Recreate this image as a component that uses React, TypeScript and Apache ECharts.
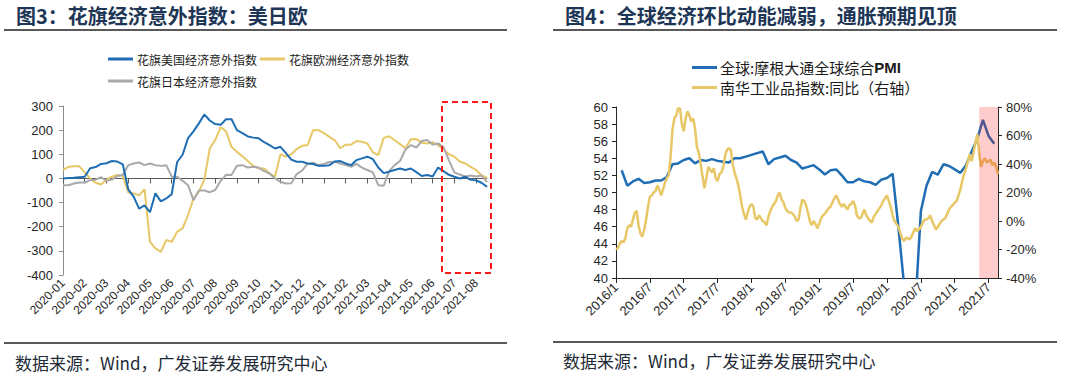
import React, { useEffect, useRef } from 'react';
import * as echarts from 'echarts';

const CJK = '"Noto Sans CJK SC", sans-serif';
const LATIN = '"Liberation Sans", Arial, sans-serif';

// ---------- Left chart: Citi Economic Surprise Index ----------
const LEFT_MONTHS = [
  '2020-01', '2020-02', '2020-03', '2020-04', '2020-05', '2020-06', '2020-07', '2020-08',
  '2020-09', '2020-10', '2020-11', '2020-12', '2021-01', '2021-02', '2021-03', '2021-04',
  '2021-05', '2021-06', '2021-07', '2021-08',
];
const LEFT_SLOTS_PER_MONTH = 4; // weekly samples
const US_CESI = [
  0, 2, 3, 5, 7, 42, 47, 60, 63, 72,
  70, 58, -45, -75, -125, -112, -140, -62, -95, -83,
  -65, 68, 98, 167, 195, 228, 265, 240, 225, 222,
  245, 245, 200, 188, 174, 169, 166, 150, 138, 124,
  131, 105, 78, 69, 69, 62, 60, 52, 52, 55,
  70, 72, 62, 55, 76, 83, 90, 80, 45, 22,
  28, 35, 41, 35, 41, 26, 10, 14, 8, 45,
  30, 15, 7, 0, 7, -6, -8, -18, -35,
];
const EU_CESI = [
  35, 48, 50, 50, 25, 0, -18, -25, -5, 7,
  14, 10, -58, -62, -70, -45, -263, -290, -304, -255,
  -263, -221, -207, -152, -83, -55, -5, 124, 159, 212,
  195, 131, 110, 92, 72, 52, 42, 41, 21, 7,
  100, 90, 100, 122, 135, 138, 200, 200, 188, 172,
  158, 125, 140, 140, 155, 152, 145, 108, 97, 168,
  175, 158, 142, 125, 162, 163, 148, 145, 150, 138,
  120, 100, 90, 70, 62, 48, 35, 12, 3,
];
const JP_CESI = [
  -28, -28, -21, -17, -17, -7, -5, 5, -10, -5,
  10, 14, 55, 62, 66, 55, 62, 55, 52, 55,
  7, 7, -10, -28, -90, -50, -50, -57, -48, -10,
  15, 14, 53, 55, 45, 48, 45, 30, 20, 0,
  -14, -21, -20, 18, 33, 60, 65, 55, 60, 68,
  69, 62, 55, 48, 60, 45, 35, 25, -28, -30,
  30, 55, 72, 120, 138, 128, 155, 159, 140, 145,
  130, 75, 25, 16, 8, 12, 8, 12, -15,
];
const LEFT_NAMES = ['花旗美国经济意外指数', '花旗欧洲经济意外指数', '花旗日本经济意外指数'];

// ---------- Right chart: PMI & Nanhua industrial index ----------
const RIGHT_MONTHS: string[] = [];
for (let y = 2016; y <= 2021; y++) {
  for (let m = 1; m <= 12; m++) {
    if (y === 2021 && m > 8) break;
    RIGHT_MONTHS.push(`${y}/${m}`);
  }
}
const RIGHT_SLOTS_PER_MONTH = 3;
// JPM global composite PMI, monthly (2016/1 .. 2021/7), plotted at month end
const PMI = [
  52.6, 50.8, 51.3, 51.6, 51.1, 51.2, 51.4, 51.4, 51.8, 53.3, 53.4, 53.8,
  54.0, 53.4, 53.8, 53.7, 53.9, 53.7, 53.6, 53.5, 54.0, 54.0, 54.2, 54.4,
  54.6, 54.8, 53.3, 53.9, 54.1, 54.3, 53.8, 53.5, 52.8, 53.0, 53.2, 52.7,
  52.1, 52.6, 52.7, 52.0, 51.2, 51.2, 51.6, 51.3, 51.2, 50.9, 51.5, 51.7,
  52.2, 46.1, 39.4, 26.2, 36.3, 47.8, 50.8, 52.4, 52.1, 53.3, 53.1, 52.7,
  52.3, 53.2, 54.8, 56.3, 58.5, 56.6, 55.7,
];
// Nanhua industrial index YoY (%), ~10-day samples
const NANHUA_YOY = [
  -20, -19, -16, -14, -15, -12, -5, -3, -4, 1,
  6, 7, -3, -9, -11, -6, 1, 10, 17, 18,
  20, 21, 25, 22, 18, 22, 27, 30, 32, 45,
  64, 72, 74, 79, 79, 68, 63, 72, 77, 74,
  70, 72, 65, 52, 48, 40, 31, 23, 30, 38,
  36, 34, 37, 30, 28, 33, 34, 38, 46, 50,
  51, 50, 40, 34, 30, 25, 18, 10, 5, 1,
  6, 10, 12, 10, 2, 1, 4, 2, 0, -1,
  -3, 3, 7, 10, 12, 14, 18, 20, 15, 13,
  9, 7, 6, 6, 5, 3, 0, 1, 9, 15,
  14, 11, 6, 0, -3, 0, -2, -5, -2, 2,
  4, 5, 7, 9, 10, 13, 16, 18, 15, 12,
  10, 12, 10, 8, 11, 12, 14, 11, 4, 2,
  2, 5, 8, 4, 2, 0, -1, 3, 5, 7,
  9, 11, 14, 16, 18, 14, 10, 4, 0, -2,
  -4, -8, -12, -14, -12, -12, -13, -11, -8, -5,
  -7, -6, -4, -1, 1, 1, 2, 4, 0, -3,
  -6, -4, -2, 0, 1, 2, 5, 8, 10, 11,
  13, 14, 18, 22, 28, 33, 37, 42, 47, 42,
  48, 55, 61, 47, 38, 42, 44, 41, 42, 43,
  39, 41, 38, 33,
];
const RIGHT_NAMES = ['全球:摩根大通全球综合PMI', '南华工业品指数:同比（右轴）'];
const HIGHLIGHT_FROM_SLOT = 193;

// ---------- build categories ----------
const leftCats: string[] = US_CESI.map((_, i) => `${LEFT_MONTHS[Math.floor(i / LEFT_SLOTS_PER_MONTH)]}#${i % LEFT_SLOTS_PER_MONTH}`);
const rightCats: string[] = NANHUA_YOY.map((_, i) => `${RIGHT_MONTHS[Math.floor(i / RIGHT_SLOTS_PER_MONTH)]}#${i % RIGHT_SLOTS_PER_MONTH}`);
const pmiSlots: (number | null)[] = rightCats.map(() => null);
PMI.forEach((v, m) => {
  const idx = (m + 1) * RIGHT_SLOTS_PER_MONTH;
  if (idx < pmiSlots.length) pmiSlots[idx] = v;
});

const catLabel = (v: string) => String(v).split('#')[0];

function buildOption(): any {
  const leftInterval = (i: number) => i % LEFT_SLOTS_PER_MONTH === 0;
  const rightInterval = (i: number) => i % (RIGHT_SLOTS_PER_MONTH * 6) === 0;
  const axisText = { fontFamily: LATIN, color: '#262626' };
  return {
    animation: false,
    backgroundColor: '#ffffff',
    grid: [
      { left: 63, top: 106, width: 424, height: 169 },
      { left: 616, top: 107, width: 382, height: 171 },
    ],
    legend: [
      {
        data: [LEFT_NAMES[0], LEFT_NAMES[1]], left: 108, top: 53, padding: 0, itemGap: 3,
        icon: 'rect', itemWidth: 25, itemHeight: 3,
        textStyle: { fontFamily: CJK, fontSize: 12, color: '#1a1a1a', padding: [0, 0, 0, -1] },
      },
      {
        data: [LEFT_NAMES[2]], left: 108, top: 75, padding: 0,
        icon: 'rect', itemWidth: 25, itemHeight: 3,
        textStyle: { fontFamily: CJK, fontSize: 12, color: '#1a1a1a', padding: [0, 0, 0, -1] },
      },
      {
        data: [RIGHT_NAMES[0]], left: 692, top: 60, padding: 0,
        icon: 'rect', itemWidth: 25, itemHeight: 3,
        formatter: (n: string) => n.replace('PMI', '{b|PMI}'),
        textStyle: {
          fontFamily: CJK, fontSize: 15, color: '#1a1a1a', padding: [0, 0, 0, -2],
          rich: { b: { fontFamily: LATIN, fontWeight: 'bold', fontSize: 15, color: '#1a1a1a' } },
        },
      },
      {
        data: [RIGHT_NAMES[1]], left: 692, top: 80, padding: 0,
        icon: 'rect', itemWidth: 25, itemHeight: 3,
        textStyle: { fontFamily: CJK, fontSize: 15, color: '#1a1a1a', padding: [0, 0, 0, -2] },
      },
    ],
    xAxis: [
      {
        type: 'category', gridIndex: 0, data: leftCats, boundaryGap: false, position: 'bottom',
        axisLine: { show: true, onZero: true, lineStyle: { color: '#595959', width: 1 } },
        axisTick: { show: true, interval: leftInterval, length: 5, lineStyle: { color: '#595959' } },
        axisLabel: { show: false },
        splitLine: { show: false },
      },
      {
        type: 'category', gridIndex: 0, data: leftCats, boundaryGap: false, position: 'bottom',
        axisLine: { show: false, onZero: false },
        axisTick: { show: false },
        axisLabel: {
          show: true, interval: leftInterval, rotate: 45, fontSize: 12, margin: 6, hideOverlap: false,
          formatter: catLabel, ...axisText,
        },
        splitLine: { show: false },
      },
      {
        type: 'category', gridIndex: 1, data: rightCats, boundaryGap: false, position: 'bottom',
        axisLine: { show: true, onZero: false, lineStyle: { color: '#262626', width: 1 } },
        axisTick: { show: true, interval: rightInterval, length: 5, lineStyle: { color: '#262626' } },
        axisLabel: {
          show: true, interval: rightInterval, rotate: 45, fontSize: 13, margin: 7, hideOverlap: false,
          formatter: catLabel, ...axisText,
        },
        splitLine: { show: false },
      },
    ],
    yAxis: [
      {
        type: 'value', gridIndex: 0, min: -400, max: 300, interval: 100,
        axisLine: { show: true, lineStyle: { color: '#8c8c8c' } },
        axisTick: { show: true, length: 4, lineStyle: { color: '#8c8c8c' } },
        axisLabel: { fontSize: 13, margin: 10, ...axisText },
        splitLine: { show: false },
      },
      {
        type: 'value', gridIndex: 1, min: 40, max: 60, interval: 2,
        axisLine: { show: true, lineStyle: { color: '#262626' } },
        axisTick: { show: true, length: 4, lineStyle: { color: '#262626' } },
        axisLabel: { fontSize: 13, margin: 8, ...axisText },
        splitLine: { show: false },
      },
      {
        type: 'value', gridIndex: 1, position: 'right', min: -40, max: 80, interval: 20,
        axisLine: { show: true, lineStyle: { color: '#262626' } },
        axisTick: { show: true, length: 4, lineStyle: { color: '#262626' } },
        axisLabel: { fontSize: 13, margin: 8, formatter: '{value}%', ...axisText },
        splitLine: { show: false },
      },
    ],
    series: [
      {
        name: LEFT_NAMES[0], type: 'line', xAxisIndex: 0, yAxisIndex: 0, data: US_CESI,
        showSymbol: false, symbol: 'none', lineStyle: { color: '#1f6db3', width: 2 }, itemStyle: { color: '#1f6db3' }, z: 4,
      },
      {
        name: LEFT_NAMES[1], type: 'line', xAxisIndex: 0, yAxisIndex: 0, data: EU_CESI,
        showSymbol: false, symbol: 'none', lineStyle: { color: '#e8c766', width: 2 }, itemStyle: { color: '#e8c766' }, z: 3,
      },
      {
        name: LEFT_NAMES[2], type: 'line', xAxisIndex: 0, yAxisIndex: 0, data: JP_CESI,
        showSymbol: false, symbol: 'none', lineStyle: { color: '#a9a9a9', width: 2 }, itemStyle: { color: '#a9a9a9' }, z: 3,
      },
      {
        name: RIGHT_NAMES[0], type: 'line', xAxisIndex: 2, yAxisIndex: 1, data: pmiSlots, connectNulls: true,
        showSymbol: false, symbol: 'none', lineStyle: { color: '#1f6db3', width: 2.5 }, itemStyle: { color: '#1f6db3' }, z: 2,
      },
      {
        name: RIGHT_NAMES[1], type: 'line', xAxisIndex: 2, yAxisIndex: 2, data: NANHUA_YOY,
        showSymbol: false, symbol: 'none', lineStyle: { color: '#e8c766', width: 2.5 }, itemStyle: { color: '#e8c766' }, z: 3,
      },
      {
        name: 'highlight', type: 'line', xAxisIndex: 2, yAxisIndex: 2, data: [], z: 10,
        markArea: {
          silent: true, z: 10,
          itemStyle: { color: 'rgba(255,0,0,0.2)' },
          data: [[{ xAxis: rightCats[HIGHLIGHT_FROM_SLOT] }, { xAxis: rightCats[rightCats.length - 1] }]],
        },
      },
    ],
    graphic: [
      { type: 'text', x: 16, y: 15, style: { text: '图3：花旗经济意外指数：美日欧', font: `bold 20px ${CJK}`, fill: '#1e3656', verticalAlign: 'middle' } },
      { type: 'text', x: 565, y: 15, style: { text: '图4：全球经济环比动能减弱，通胀预期见顶', font: `bold 20px ${CJK}`, fill: '#1e3656', verticalAlign: 'middle' } },
      { type: 'line', shape: { x1: 4, y1: 30, x2: 507, y2: 30 }, style: { stroke: '#222', lineWidth: 1.5 } },
      { type: 'line', shape: { x1: 553, y1: 30, x2: 1057, y2: 30 }, style: { stroke: '#222', lineWidth: 1.5 } },
      { type: 'line', shape: { x1: 4, y1: 343, x2: 507, y2: 343 }, style: { stroke: '#222', lineWidth: 1.5 } },
      { type: 'line', shape: { x1: 553, y1: 342, x2: 1057, y2: 342 }, style: { stroke: '#222', lineWidth: 1.5 } },
      { type: 'text', x: 15, y: 362, style: { text: '数据来源：Wind，广发证券发展研究中心', font: `17px ${CJK}`, fill: '#222a36', verticalAlign: 'middle' } },
      { type: 'text', x: 563, y: 360, style: { text: '数据来源：Wind，广发证券发展研究中心', font: `17px ${CJK}`, fill: '#222a36', verticalAlign: 'middle' } },
      {
        type: 'rect', shape: { x: 442, y: 102, width: 49, height: 171 }, z: 20,
        style: { fill: 'none', stroke: '#ff1a1a', lineWidth: 2, lineDash: [6, 4] },
      },
    ],
  };
}

export default function App() {
  const ref = useRef<HTMLDivElement>(null);
  useEffect(() => {
    if (!ref.current) return;
    const chart = echarts.init(ref.current, null, { renderer: 'svg' });
    chart.setOption(buildOption());
    return () => chart.dispose();
  }, []);
  return (
    <div
      ref={ref}
      style={{ position: 'absolute', left: 0, top: 0, width: 1080, height: 378, background: '#fff' }}
    />
  );
}
